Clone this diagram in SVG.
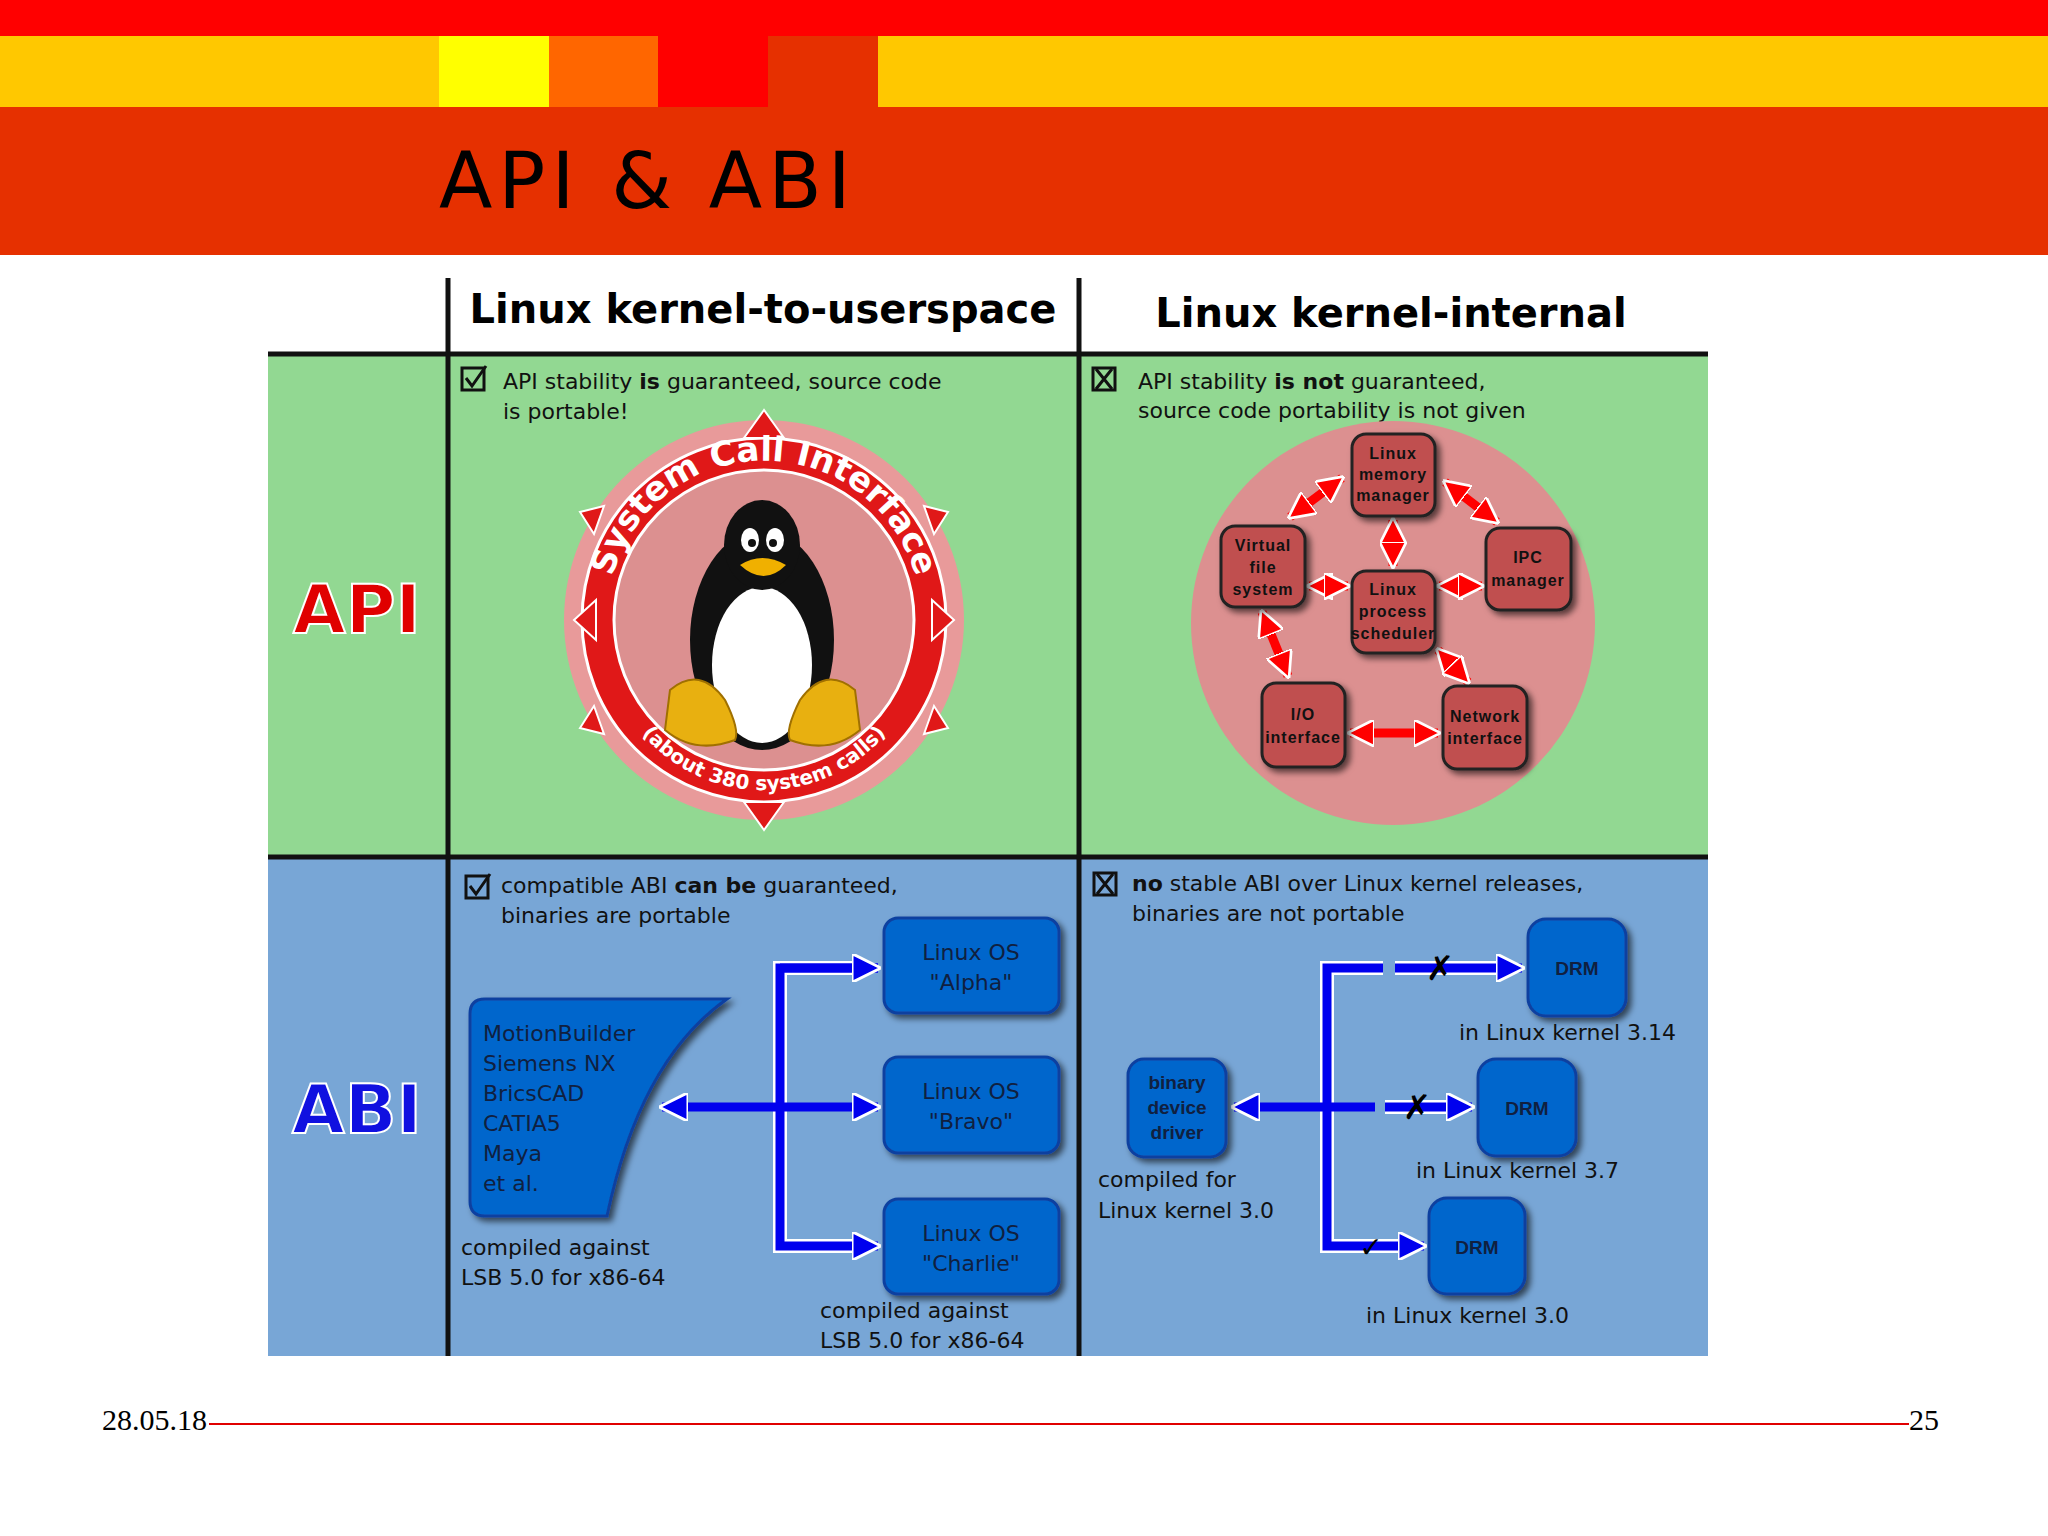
<svg xmlns="http://www.w3.org/2000/svg" width="2048" height="1536" viewBox="0 0 2048 1536">
<style>
.h{font-family:"DejaVu Sans",sans-serif;font-weight:bold;font-size:40px;fill:#000}
.t{font-family:"DejaVu Sans",sans-serif;font-size:22px;fill:#111}
.kn{fill:#c05050;stroke:#222;stroke-width:3;filter:url(#sh)}
.kt{font-family:"Liberation Sans",sans-serif;font-weight:bold;font-size:16px;fill:#111;text-anchor:middle;letter-spacing:1px}
.bn{fill:#0066cc;stroke:#1040a0;stroke-width:3;filter:url(#sh)}
.bt{font-family:"Liberation Sans",sans-serif;font-weight:bold;font-size:19px;fill:#102040;text-anchor:middle}
.ot{font-family:"DejaVu Sans",sans-serif;font-size:22px;fill:#102040;text-anchor:middle}
.ra{stroke:#ff0000;stroke-width:9;fill:none;marker-start:url(#rh);marker-end:url(#rh)}
.ba{stroke:#0000ee;stroke-width:9;fill:none}
.bw{stroke:#fff;stroke-width:14;fill:none}
</style>
<defs>
<filter id="sh" x="-20%" y="-20%" width="150%" height="150%"><feDropShadow dx="4" dy="4" stdDeviation="3" flood-color="#000" flood-opacity="0.6"/></filter>
<marker id="rh" viewBox="0 0 10 10" refX="9" refY="5" markerWidth="3" markerHeight="3" orient="auto-start-reverse"><path d="M0,0 L10,5 L0,10 z" fill="#ff0000" stroke="#fff" stroke-width="1"/></marker>
<marker id="bh" viewBox="0 0 10 10" refX="9" refY="5" markerWidth="3.2" markerHeight="3.2" orient="auto-start-reverse"><path d="M0,0 L10,5 L0,10 z" fill="#0000ee" stroke="#fff" stroke-width="1"/></marker>
<path id="arcTop" d="M608,600 A157,157 0 0 1 920,600"/>
<path id="arcBot" d="M620,700 A160,160 0 0 0 908,700"/>
</defs>
<rect width="2048" height="1536" fill="#fff"/>
<rect x="0" y="0" width="2048" height="36" fill="#ff0000"/>
<rect x="0" y="36" width="2048" height="71" fill="#ffc800"/>
<rect x="439" y="36" width="110" height="71" fill="#ffff00"/>
<rect x="549" y="36" width="109" height="71" fill="#ff6600"/>
<rect x="658" y="36" width="110" height="71" fill="#ff0000"/>
<rect x="768" y="36" width="110" height="71" fill="#e63000"/>
<rect x="0" y="107" width="2048" height="148" fill="#e63000"/>
<text x="439" y="208" font-family="DejaVu Sans,sans-serif" font-size="78" letter-spacing="6" fill="#000">API &amp; ABI</text>

<rect x="268" y="354" width="1440" height="503" fill="#92d892"/>
<rect x="268" y="857" width="1440" height="499" fill="#78a6d6"/>
<g stroke="#111" stroke-width="5">
<line x1="268" y1="354" x2="1708" y2="354"/>
<line x1="268" y1="857" x2="1708" y2="857"/>
<line x1="448" y1="278" x2="448" y2="1356"/>
<line x1="1079" y1="278" x2="1079" y2="1356"/>
</g>
<text class="h" x="763" y="323" text-anchor="middle">Linux kernel-to-userspace</text>
<text class="h" x="1391" y="327" text-anchor="middle">Linux kernel-internal</text>
<text x="357" y="633" text-anchor="middle" font-family="DejaVu Sans,sans-serif" font-weight="bold" font-size="68" fill="#e00000" stroke="#fff" stroke-width="2">API</text>
<text x="357" y="1133" text-anchor="middle" font-family="DejaVu Sans,sans-serif" font-weight="bold" font-size="68" fill="#1010e0" stroke="#fff" stroke-width="2">ABI</text>

<g fill="none" stroke="#111" stroke-width="3">
<rect x="462" y="368" width="22" height="22"/><path d="M466,378 l6,8 l14,-20"/>
<rect x="1093" y="368" width="22" height="22"/><path d="M1096,369 l16,20 M1112,369 l-16,20"/>
<rect x="466" y="876" width="22" height="22"/><path d="M470,886 l6,8 l14,-20"/>
<rect x="1094" y="873" width="22" height="22"/><path d="M1097,874 l16,20 M1113,874 l-16,20"/>
</g>
<text class="t" x="503" y="389">API stability <tspan font-weight="bold">is</tspan> guaranteed, source code</text>
<text class="t" x="503" y="419">is portable!</text>
<text class="t" x="1138" y="389">API stability <tspan font-weight="bold">is not</tspan> guaranteed,</text>
<text class="t" x="1138" y="418">source code portability is not given</text>
<text class="t" x="501" y="893">compatible ABI <tspan font-weight="bold">can be</tspan> guaranteed,</text>
<text class="t" x="501" y="923">binaries are portable</text>
<text class="t" x="1132" y="891"><tspan font-weight="bold">no</tspan> stable ABI over Linux kernel releases,</text>
<text class="t" x="1132" y="921">binaries are not portable</text>

<g id="syscall">
<circle cx="764" cy="620" r="200" fill="#e89a9a"/>
<circle cx="764" cy="620" r="182" fill="#e01818" stroke="#fff" stroke-width="3"/>
<circle cx="764" cy="620" r="150" fill="#dc9090" stroke="#fff" stroke-width="3"/>
<g fill="#e01818" stroke="#fff" stroke-width="2">
<path d="M764,410 l-20,28 h40 z"/><path d="M764,830 l-20,-28 h40 z"/>
<path d="M574,620 l22,-20 v40 z"/><path d="M954,620 l-22,-20 v40 z"/>
<path d="M580,512 l24,-6 l-10,28 z"/><path d="M948,512 l-24,-6 l10,28 z"/>
<path d="M580,728 l24,6 l-10,-28 z"/><path d="M948,728 l-24,6 l10,-28 z"/>
</g>
<text font-family="DejaVu Sans,sans-serif" font-weight="bold" font-size="34" fill="#fff"><textPath href="#arcTop" startOffset="50%" text-anchor="middle">System Call Interface</textPath></text>
<text font-family="DejaVu Sans,sans-serif" font-weight="bold" font-size="20" fill="#fff"><textPath href="#arcBot" startOffset="50%" text-anchor="middle">(about 380 system calls)</textPath></text>
<ellipse cx="762" cy="640" rx="72" ry="110" fill="#111"/>
<ellipse cx="762" cy="665" rx="50" ry="78" fill="#fff"/>
<ellipse cx="762" cy="545" rx="38" ry="45" fill="#111"/>
<ellipse cx="750" cy="540" rx="9" ry="12" fill="#fff"/><ellipse cx="775" cy="540" rx="9" ry="12" fill="#fff"/>
<circle cx="752" cy="543" r="4" fill="#111"/><circle cx="773" cy="543" r="4" fill="#111"/>
<path d="M740,565 q22,-14 46,0 q-22,22 -46,0 z" fill="#f0b000"/>
<path d="M670,690 q30,-25 55,10 q15,30 10,40 q-40,15 -70,-10 z" fill="#e8b010" stroke="#a07000" stroke-width="2"/>
<path d="M855,690 q-30,-25 -55,10 q-15,30 -10,40 q40,15 70,-10 z" fill="#e8b010" stroke="#a07000" stroke-width="2"/>
</g>

<circle cx="1393" cy="623" r="202" fill="#dc9090"/>
<g id="connectors-kernel">
<line class="ra" x1="1342" y1="478" x2="1290" y2="517"/>
<line class="ra" x1="1445" y1="482" x2="1497" y2="522"/>
<line class="ra" x1="1393" y1="520" x2="1393" y2="566"/>
<line class="ra" x1="1309" y1="586" x2="1348" y2="586"/>
<line class="ra" x1="1439" y1="586" x2="1482" y2="586"/>
<line class="ra" x1="1262" y1="612" x2="1288" y2="676"/>
<line class="ra" x1="1438" y1="650" x2="1468" y2="682"/>
<line class="ra" x1="1350" y1="733" x2="1438" y2="733"/>
</g>
<g id="mem"><rect class="kn" x="1352" y="434" width="83" height="82" rx="14"/><text class="kt" x="1393" y="459">Linux</text><text class="kt" x="1393" y="480">memory</text><text class="kt" x="1393" y="501">manager</text></g>
<g id="vfs"><rect class="kn" x="1221" y="526" width="84" height="81" rx="14"/><text class="kt" x="1263" y="551">Virtual</text><text class="kt" x="1263" y="573">file</text><text class="kt" x="1263" y="595">system</text></g>
<g id="sched"><rect class="kn" x="1352" y="571" width="83" height="82" rx="14"/><text class="kt" x="1393" y="595">Linux</text><text class="kt" x="1393" y="617">process</text><text class="kt" x="1393" y="639">scheduler</text></g>
<g id="ipc"><rect class="kn" x="1486" y="528" width="85" height="82" rx="14"/><text class="kt" x="1528" y="563">IPC</text><text class="kt" x="1528" y="586">manager</text></g>
<g id="io"><rect class="kn" x="1262" y="683" width="83" height="84" rx="14"/><text class="kt" x="1303" y="720">I/O</text><text class="kt" x="1303" y="743">interface</text></g>
<g id="net"><rect class="kn" x="1443" y="686" width="84" height="83" rx="14"/><text class="kt" x="1485" y="722">Network</text><text class="kt" x="1485" y="744">interface</text></g>

<g id="connectors-abi">
<path class="bw" d="M870,968 H780 V1246 H870"/>
<path class="ba" d="M878,968 H780 V1246 H878" marker-end="url(#bh)"/>
<path class="ba" d="M780,968 H878" marker-end="url(#bh)"/>
<path class="ba" d="M662,1107 H878" marker-start="url(#bh)" marker-end="url(#bh)"/>
<path class="bw" d="M1383,968 H1327 V1246 H1410"/>
<path class="ba" d="M1383,968 H1327 V1246 H1424" marker-end="url(#bh)"/>
<path class="bw" d="M1395,968 H1500"/>
<path class="ba" d="M1395,968 H1522" marker-end="url(#bh)"/>
<path class="ba" d="M1234,1107 H1375" marker-start="url(#bh)"/>
<path class="bw" d="M1385,1107 H1455"/>
<path class="ba" d="M1385,1107 H1472" marker-end="url(#bh)"/>
<text x="1440" y="980" font-family="DejaVu Sans,sans-serif" font-weight="bold" font-size="34" fill="#000" text-anchor="middle">✗</text>
<text x="1417" y="1119" font-family="DejaVu Sans,sans-serif" font-weight="bold" font-size="34" fill="#000" text-anchor="middle">✗</text>
<text x="1371" y="1257" font-family="DejaVu Sans,sans-serif" font-weight="bold" font-size="28" fill="#000" text-anchor="middle">✓</text>
</g>
<g id="apps">
<path d="M470,1014 q0,-15 15,-15 H727 Q640,1060 607,1216 H485 q-15,0 -15,-15 z" fill="#0066cc" stroke="#1040a0" stroke-width="3" filter="url(#sh)"/>
<text class="t" x="483" y="1041" style="fill:#102040">MotionBuilder</text><text class="t" x="483" y="1071" style="fill:#102040">Siemens NX</text><text class="t" x="483" y="1101" style="fill:#102040">BricsCAD</text><text class="t" x="483" y="1131" style="fill:#102040">CATIA5</text><text class="t" x="483" y="1161" style="fill:#102040">Maya</text><text class="t" x="483" y="1191" style="fill:#102040">et al.</text>
</g>
<text class="t" x="461" y="1255">compiled against</text><text class="t" x="461" y="1285">LSB 5.0 for x86-64</text>
<g id="alpha"><rect class="bn" x="884" y="918" width="175" height="95" rx="14"/><text class="ot" x="971" y="960">Linux OS</text><text class="ot" x="971" y="990">"Alpha"</text></g>
<g id="bravo"><rect class="bn" x="884" y="1057" width="175" height="96" rx="14"/><text class="ot" x="971" y="1099">Linux OS</text><text class="ot" x="971" y="1129">"Bravo"</text></g>
<g id="charlie"><rect class="bn" x="884" y="1199" width="175" height="95" rx="14"/><text class="ot" x="971" y="1241">Linux OS</text><text class="ot" x="971" y="1271">"Charlie"</text></g>
<text class="t" x="820" y="1318">compiled against</text><text class="t" x="820" y="1348">LSB 5.0 for x86-64</text>

<g id="bdd"><rect class="bn" x="1128" y="1059" width="98" height="98" rx="16"/><text class="bt" x="1177" y="1089">binary</text><text class="bt" x="1177" y="1114">device</text><text class="bt" x="1177" y="1139">driver</text></g>
<text class="t" x="1098" y="1187">compiled for</text><text class="t" x="1098" y="1218">Linux kernel 3.0</text>
<g id="drm1"><rect class="bn" x="1528" y="919" width="98" height="97" rx="18"/><text class="bt" x="1577" y="975">DRM</text></g>
<text class="t" x="1459" y="1040">in Linux kernel 3.14</text>
<g id="drm2"><rect class="bn" x="1478" y="1059" width="98" height="97" rx="18"/><text class="bt" x="1527" y="1115">DRM</text></g>
<text class="t" x="1416" y="1178">in Linux kernel 3.7</text>
<g id="drm3"><rect class="bn" x="1429" y="1198" width="96" height="96" rx="18"/><text class="bt" x="1477" y="1254">DRM</text></g>
<text class="t" x="1366" y="1323">in Linux kernel 3.0</text>

<line x1="209" y1="1424" x2="1909" y2="1424" stroke="#e00000" stroke-width="2"/>
<text x="102" y="1430" font-family="Liberation Serif,serif" font-size="30" fill="#000">28.05.18</text>
<text x="1909" y="1430" font-family="Liberation Serif,serif" font-size="30" fill="#000">25</text>
</svg>
